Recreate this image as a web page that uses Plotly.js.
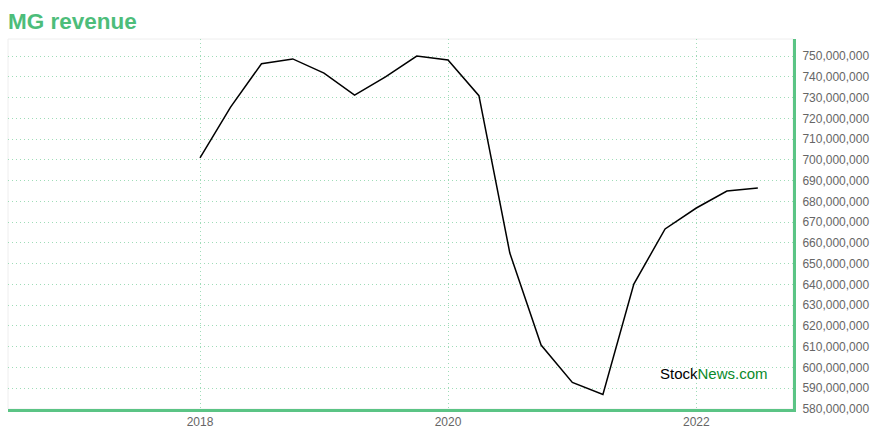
<!DOCTYPE html>
<html>
<head>
<meta charset="utf-8">
<script src="https://cdn.plot.ly/plotly-3.0.1.min.js"></script>
<style>html,body{margin:0;padding:0;background:#fff;}#chart{width:880px;height:440px;}</style>
</head>
<body>
<div id="chart"></div>
<script>
const dates = ["2018-01-01","2018-04-01","2018-07-01","2018-10-01","2019-01-01","2019-04-01","2019-07-01","2019-10-01","2020-01-01","2020-04-01","2020-07-01","2020-10-01","2021-01-01","2021-04-01","2021-07-01","2021-10-01","2022-01-01","2022-04-01","2022-07-01"];
const revenue = [701.0e6,725.4e6,746.3e6,748.6e6,741.8e6,731.2e6,740.0e6,750.0e6,748.1e6,730.9e6,655.1e6,610.8e6,592.8e6,587.0e6,640.2e6,666.7e6,676.8e6,685.0e6,686.4e6];
const yTicks = [580e6,590e6,600e6,610e6,620e6,630e6,640e6,650e6,660e6,670e6,680e6,690e6,700e6,710e6,720e6,730e6,740e6,750e6];
const yTickText = yTicks.map(v => v.toLocaleString('en-US'));

const t2018 = Date.UTC(2018,0,1), t2020 = Date.UTC(2020,0,1);
const pxPer = (t2020 - t2018) / 248;
const xr0 = new Date(t2018 - 192 * pxPer).toISOString();
const xr1 = new Date(t2018 + 593 * pxPer).toISOString();

const gridColor = '#9fdcb8';
const green = '#5bc485';

Plotly.newPlot('chart', [{
  x: dates, y: revenue, type: 'scatter', mode: 'lines',
  line: {color: '#000', width: 1.5}, hoverinfo: 'skip'
}], {
  width: 880, height: 440,
  margin: {l: 8, r: 87, t: 39, b: 31},
  paper_bgcolor: '#fff', plot_bgcolor: '#fff',
  showlegend: false,
  font: {family: 'Liberation Sans, Arial, sans-serif', color: '#666', size: 12},
  title: {text: '<b>MG revenue</b>', x: 0.009, xanchor: 'left', y: 0.952, yanchor: 'middle',
          font: {size: 22.5, color: '#4dbd7a', family: 'Liberation Sans, Arial, sans-serif'}},
  xaxis: {
    type: 'date', range: [xr0, xr1],
    tickvals: ['2018-01-01','2020-01-01','2022-01-01'], ticktext: ['2018','2020','2022'],
    showgrid: true, gridcolor: gridColor, griddash: '1px,3px', gridwidth: 1,
    showline: true, linecolor: green, linewidth: 3, ticks: '', zeroline: false,
    tickfont: {size: 12, color: '#666'}
  },
  yaxis: {
    side: 'right', range: [580e6, 758.2e6],
    tickvals: yTicks, ticktext: yTickText,
    showgrid: true, gridcolor: gridColor, griddash: '1px,3px', gridwidth: 1,
    showline: true, linecolor: green, linewidth: 3, ticks: '', zeroline: false,
    tickfont: {size: 12, color: '#666'}, ticklabelstandoff: 4
  },
  shapes: [{type: 'rect', xref: 'paper', yref: 'paper', x0: 0, x1: 1, y0: 0, y1: 1,
            line: {color: '#eeeeee', width: 1}, layer: 'below'}],
  annotations: [{
    xref: 'paper', yref: 'paper', x: 0.828, y: 0.095, xanchor: 'left', yanchor: 'middle',
    showarrow: false,
    text: '<span style="color:#000">Stock</span><span style="color:#0a8a2a">News.com</span>',
    font: {size: 15, family: 'Liberation Sans, Arial, sans-serif'}
  }]
}, {staticPlot: true});
</script>
</body>
</html>
